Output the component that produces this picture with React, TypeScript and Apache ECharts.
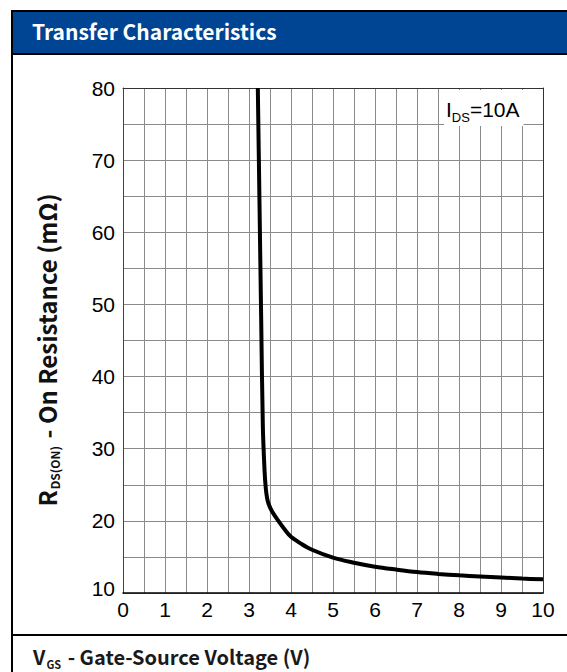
import React, { useEffect, useRef } from "react";
import * as echarts from "echarts";

// Curve: V_GS (V) vs R_DS(ON) (mΩ)
const vgs = [3.21, 3.25, 3.29, 3.33, 3.37, 3.4, 3.43, 3.47, 3.55, 3.7, 3.85, 4.0, 4.25, 4.5, 5.0, 5.5, 6.0, 6.5, 7.0, 7.5, 8.0, 8.5, 9.0, 9.5, 10.0];
const rds = [80, 64, 48, 33, 27, 24.5, 23.2, 22.3, 21.3, 20.0, 18.8, 17.8, 16.8, 16.0, 14.9, 14.2, 13.65, 13.25, 12.9, 12.65, 12.45, 12.3, 12.15, 12.0, 11.9];

const xMin = 0, xMax = 10, xStep = 0.5;
const yMin = 10, yMax = 80, yStep = 5;

const titleText = "Transfer Characteristics";
const xTitleMain = "V";
const xTitleSub = "GS";
const xTitleRest = " - Gate-Source Voltage (V)";
const yTitleMain = "R";
const yTitleSub = "DS(ON)";
const yTitleRest = " - On Resistance (mΩ)";
const noteMain = "I";
const noteSub = "DS";
const noteRest = "=10A";

const LAT = "'Liberation Sans', Arial, sans-serif";
const CJK = "'Noto Sans CJK SC', 'Noto Sans', sans-serif";

export default function App() {
  const ref = useRef<HTMLDivElement>(null);
  useEffect(() => {
    const chart = echarts.init(ref.current!, null, { renderer: "svg" });
    const grid = { left: 123, top: 88, width: 420, height: 505 };
    chart.setOption({
      animation: false,
      backgroundColor: "#fff",
      grid,
      xAxis: [
        {
          type: "value",
          min: xMin,
          max: xMax,
          interval: xStep,
          axisLine: { show: true, onZero: false, lineStyle: { color: "#000", width: 1.5 } },
          axisTick: { show: false },
          axisLabel: {
            formatter: (v: number) => (Number.isInteger(v) ? String(v) : ""),
            fontSize: 21,
            fontFamily: LAT,
            color: "#000",
            margin: 6,
          },
          splitLine: { show: true, lineStyle: { color: "#8a8a8a", width: 1 } },
        },
        {
          type: "value",
          position: "top",
          min: xMin,
          max: xMax,
          axisLine: { show: true, onZero: false, lineStyle: { color: "#333", width: 1 } },
          axisTick: { show: false },
          axisLabel: { show: false },
          splitLine: { show: false },
        },
      ],
      yAxis: [
        {
          type: "value",
          min: yMin,
          max: yMax,
          interval: yStep,
          axisLine: { show: true, onZero: false, lineStyle: { color: "#444", width: 1 } },
          axisTick: { show: false },
          axisLabel: {
            formatter: (v: number) =>
              v % 10 === 0 ? (v === yMin ? "{up|" + v + "}" : String(v)) : "",
            fontSize: 21,
            fontFamily: LAT,
            color: "#000",
            margin: 8,
            rich: {
              up: { fontSize: 21, fontFamily: LAT, color: "#000", padding: [0, 0, 10, 0] },
            },
          },
          splitLine: { show: true, lineStyle: { color: "#8a8a8a", width: 1 } },
        },
        {
          type: "value",
          position: "right",
          min: yMin,
          max: yMax,
          axisLine: { show: true, onZero: false, lineStyle: { color: "#333", width: 1 } },
          axisTick: { show: false },
          axisLabel: { show: false },
          splitLine: { show: false },
        },
      ],
      series: [
        {
          type: "line",
          data: vgs.map((x, i) => [x, rds[i]]),
          showSymbol: false,
          smooth: 0.35,
          lineStyle: { color: "#000", width: 4 },
          z: 5,
        },
      ],
      graphic: [
        { type: "rect", z: 100, shape: { x: 12, y: 11, width: 560, height: 43 }, style: { fill: "#004494" } },
        { type: "line", z: 101, shape: { x1: 11, y1: 11, x2: 567, y2: 11 }, style: { stroke: "#000", lineWidth: 2 } },
        { type: "line", z: 101, shape: { x1: 11, y1: 54, x2: 567, y2: 54 }, style: { stroke: "#000", lineWidth: 2 } },
        { type: "line", z: 101, shape: { x1: 12, y1: 10, x2: 12, y2: 672 }, style: { stroke: "#000", lineWidth: 2 } },
        { type: "line", z: 101, shape: { x1: 11, y1: 635, x2: 567, y2: 635 }, style: { stroke: "#000", lineWidth: 2 } },
        {
          type: "text",
          z: 102,
          x: 32,
          y: 31,
          style: {
            text: titleText,
            fill: "#fff",
            font: "bold 21px " + CJK,
            align: "left",
            verticalAlign: "middle",
            textAlign: "left",
            textVerticalAlign: "middle",
          },
        },
        {
          type: "text",
          z: 102,
          x: 33,
          y: 656,
          style: {
            text: "{m|" + xTitleMain + "}{s|" + xTitleSub + "}{m|" + xTitleRest + "}",
            align: "left",
            verticalAlign: "middle",
            textAlign: "left",
            textVerticalAlign: "middle",
            rich: {
              m: { fontSize: 20, fontWeight: "bold", fontFamily: CJK, fill: "#1a1a1a", lineHeight: 26 },
              s: { fontSize: 11, fontWeight: "bold", fontFamily: CJK, fill: "#1a1a1a", lineHeight: 26, verticalAlign: "bottom", padding: [0, 2, 0, 1] },
            },
          },
        },
        {
          type: "text",
          z: 102,
          x: 46,
          y: 350,
          rotation: Math.PI / 2,
          style: {
            text: "{m|" + yTitleMain + "}{s|" + yTitleSub + "}{m|" + yTitleRest + "}",
            align: "center",
            verticalAlign: "middle",
            textAlign: "center",
            textVerticalAlign: "middle",
            rich: {
              m: { fontSize: 24, fontWeight: "bold", fontFamily: CJK, fill: "#111", lineHeight: 30 },
              s: { fontSize: 12, fontWeight: "bold", fontFamily: CJK, fill: "#111", lineHeight: 30, verticalAlign: "bottom", padding: [0, 2, 0, 1] },
            },
          },
        },
        {
          type: "text",
          z: 102,
          x: 444,
          y: 108,
          style: {
            text: "{m|" + noteMain + "}{s|" + noteSub + "}{m|" + noteRest + "}",
            align: "left",
            verticalAlign: "middle",
            textAlign: "left",
            textVerticalAlign: "middle",
            backgroundColor: "#fff",
            padding: [6, 4, 4, 2],
            rich: {
              m: { fontSize: 21, fontFamily: LAT, fill: "#000", lineHeight: 26 },
              s: { fontSize: 13, fontFamily: LAT, fill: "#000", lineHeight: 26, verticalAlign: "bottom", padding: [0, 0, -2, 0] },
            },
          },
        },
      ],
    });
    return () => chart.dispose();
  }, []);
  return (
    <div
      ref={ref}
      style={{ position: "absolute", left: 0, top: 0, width: 567, height: 672 }}
    />
  );
}
